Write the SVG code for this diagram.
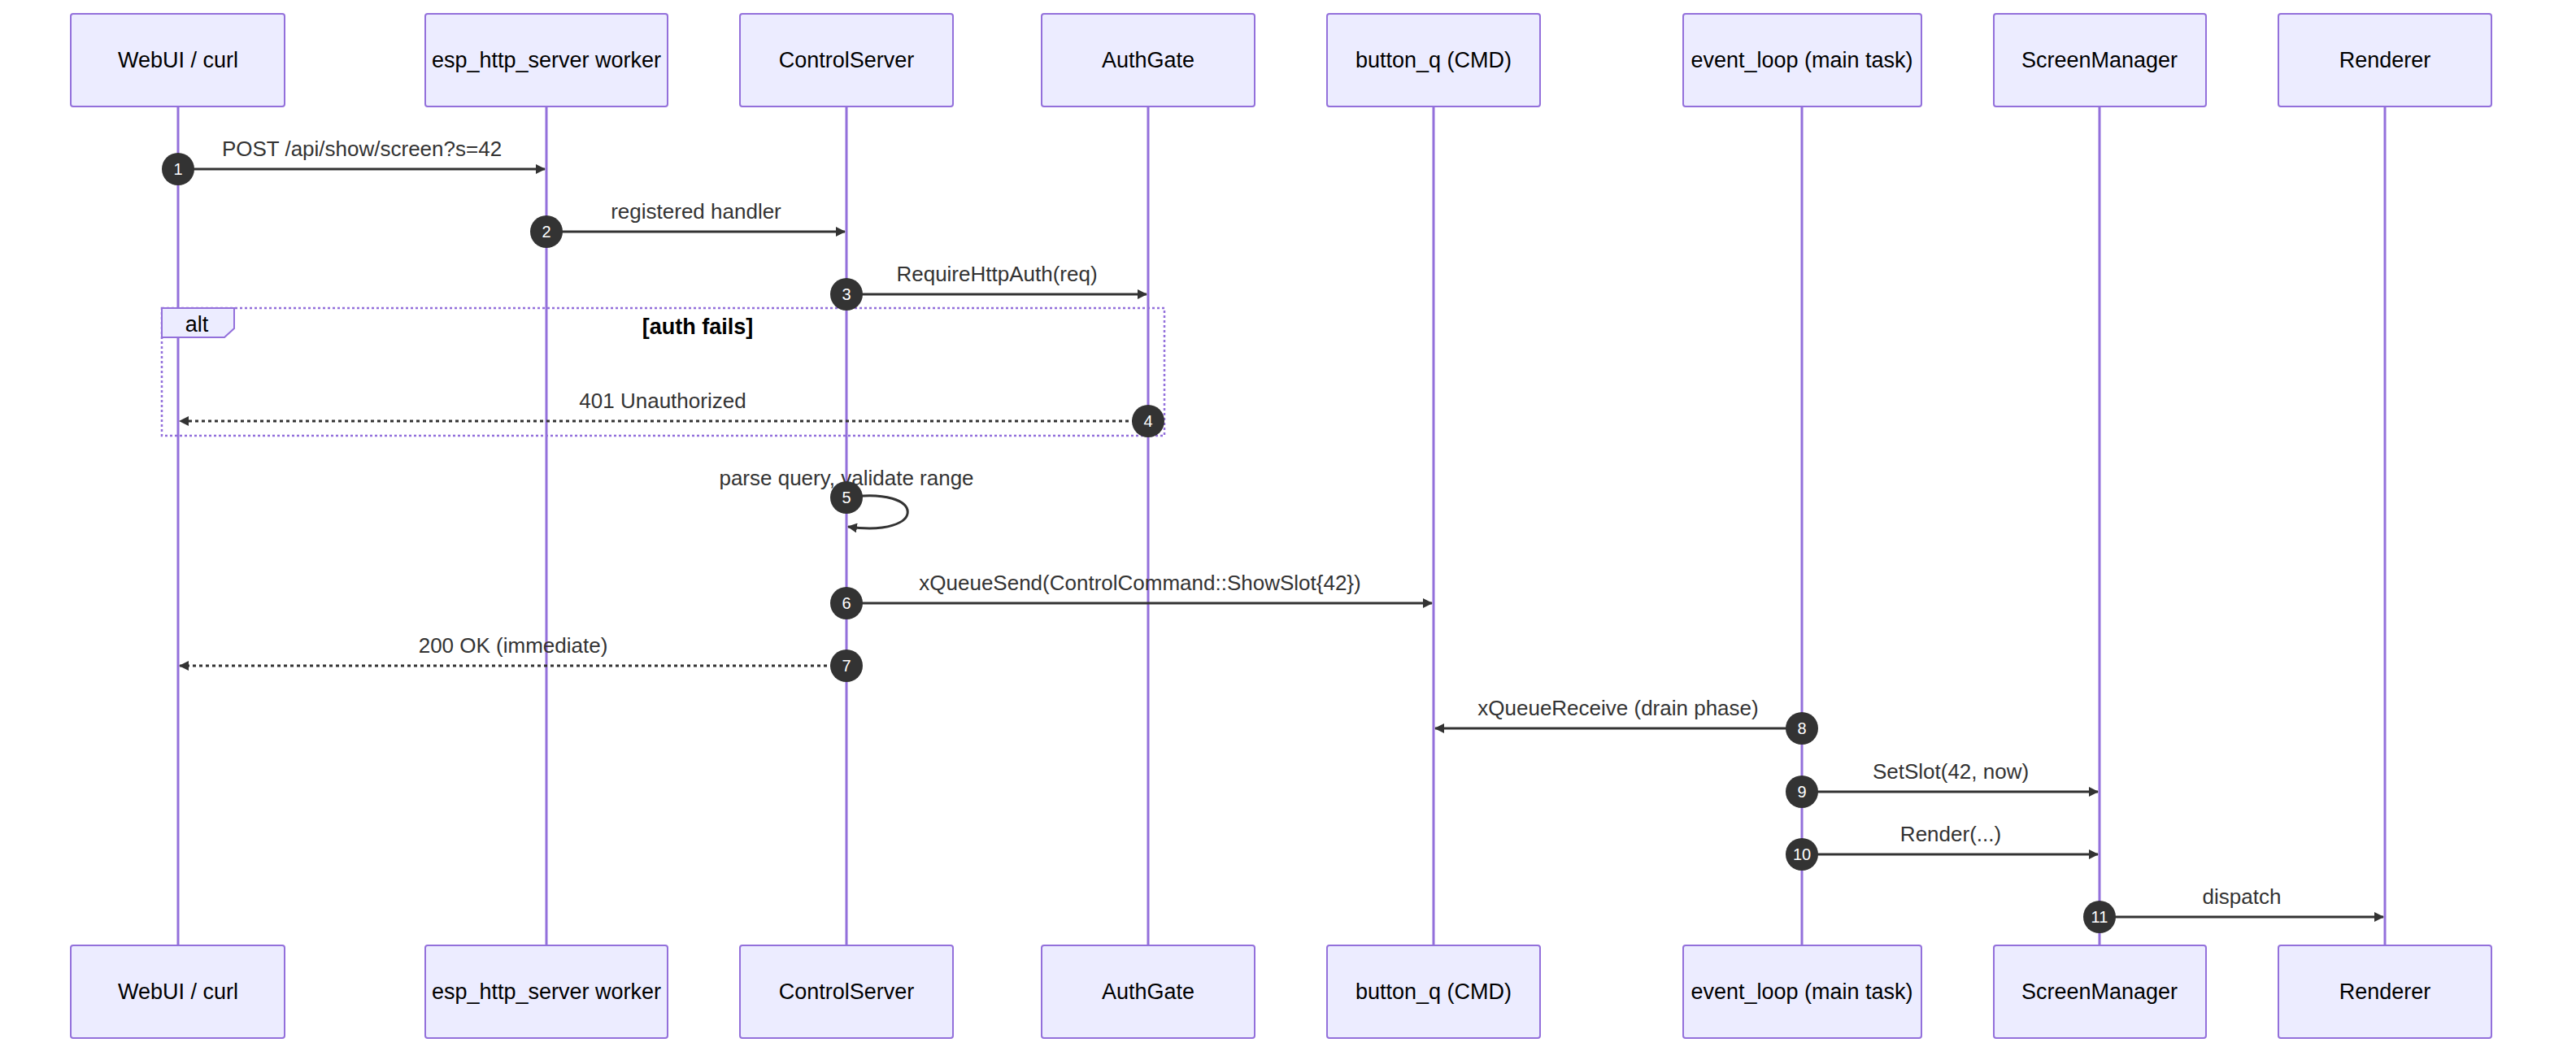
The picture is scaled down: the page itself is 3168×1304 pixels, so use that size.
<svg xmlns="http://www.w3.org/2000/svg" width="3168" height="1304" viewBox="0 0 3168 1304">
<style>
.box{fill:#ECECFF;stroke:#9370DB;stroke-width:2}
.life{stroke:#9370DB;stroke-width:3}
.t{font-family:"Liberation Sans",Arial,sans-serif;font-size:27px;fill:#000;text-anchor:middle;dominant-baseline:central}
.m{font-family:"Liberation Sans",Arial,sans-serif;font-size:26px;fill:#333;text-anchor:middle}
.msg{stroke:#333;stroke-width:3;fill:none}
.dot{stroke-dasharray:4,4}
.num{fill:#333}
.nt{font-family:"Liberation Sans",Arial,sans-serif;font-size:20px;fill:#fff;text-anchor:middle;dominant-baseline:central}
</style>
<defs>
<marker id="ah" markerWidth="12" markerHeight="12" refX="11" refY="6" orient="auto" markerUnits="userSpaceOnUse" viewBox="0 0 12 12"><path d="M0,0 L12,6 L0,12 z" fill="#333"/></marker>
</defs>
<rect width="3168" height="1304" fill="#fff"/>
<g id="lifelines">
<line class="life" x1="219" y1="131" x2="219" y2="1163"/>
<line class="life" x1="672" y1="131" x2="672" y2="1163"/>
<line class="life" x1="1041" y1="131" x2="1041" y2="1163"/>
<line class="life" x1="1412" y1="131" x2="1412" y2="1163"/>
<line class="life" x1="1763" y1="131" x2="1763" y2="1163"/>
<line class="life" x1="2216" y1="131" x2="2216" y2="1163"/>
<line class="life" x1="2582" y1="131" x2="2582" y2="1163"/>
<line class="life" x1="2933" y1="131" x2="2933" y2="1163"/>
</g>
<g id="alt">
<rect x="199" y="379" width="1233" height="157" fill="none" stroke="#9370DB" stroke-width="2.5" stroke-dasharray="3,3"/>
<path d="M199,379 H288 V404 L276,415 H199 z" fill="#ECECFF" stroke="#9370DB" stroke-width="2"/>
<text class="t" x="242" y="399">alt</text>
<text class="t" x="858" y="402" font-weight="bold" fill="#000">[auth fails]</text>
</g>
<g id="node-webui"><rect class="box" x="87" y="17" width="263" height="114" rx="3"/><text class="t" x="219" y="74">WebUI / curl</text></g>
<g id="node-esp"><rect class="box" x="523" y="17" width="298" height="114" rx="3"/><text class="t" x="672" y="74">esp_http_server worker</text></g>
<g id="node-cs"><rect class="box" x="910" y="17" width="262" height="114" rx="3"/><text class="t" x="1041" y="74">ControlServer</text></g>
<g id="node-auth"><rect class="box" x="1281" y="17" width="262" height="114" rx="3"/><text class="t" x="1412" y="74">AuthGate</text></g>
<g id="node-bq"><rect class="box" x="1632" y="17" width="262" height="114" rx="3"/><text class="t" x="1763" y="74">button_q (CMD)</text></g>
<g id="node-el"><rect class="box" x="2070" y="17" width="293" height="114" rx="3"/><text class="t" x="2216" y="74">event_loop (main task)</text></g>
<g id="node-sm"><rect class="box" x="2452" y="17" width="261" height="114" rx="3"/><text class="t" x="2582" y="74">ScreenManager</text></g>
<g id="node-r"><rect class="box" x="2802" y="17" width="262" height="114" rx="3"/><text class="t" x="2933" y="74">Renderer</text></g>
<g id="node-webui-b"><rect class="box" x="87" y="1163" width="263" height="114" rx="3"/><text class="t" x="219" y="1220">WebUI / curl</text></g>
<g id="node-esp-b"><rect class="box" x="523" y="1163" width="298" height="114" rx="3"/><text class="t" x="672" y="1220">esp_http_server worker</text></g>
<g id="node-cs-b"><rect class="box" x="910" y="1163" width="262" height="114" rx="3"/><text class="t" x="1041" y="1220">ControlServer</text></g>
<g id="node-auth-b"><rect class="box" x="1281" y="1163" width="262" height="114" rx="3"/><text class="t" x="1412" y="1220">AuthGate</text></g>
<g id="node-bq-b"><rect class="box" x="1632" y="1163" width="262" height="114" rx="3"/><text class="t" x="1763" y="1220">button_q (CMD)</text></g>
<g id="node-el-b"><rect class="box" x="2070" y="1163" width="293" height="114" rx="3"/><text class="t" x="2216" y="1220">event_loop (main task)</text></g>
<g id="node-sm-b"><rect class="box" x="2452" y="1163" width="261" height="114" rx="3"/><text class="t" x="2582" y="1220">ScreenManager</text></g>
<g id="node-r-b"><rect class="box" x="2802" y="1163" width="262" height="114" rx="3"/><text class="t" x="2933" y="1220">Renderer</text></g>
<g id="connectors">
<line class="msg" x1="219" y1="208" x2="670" y2="208" marker-end="url(#ah)"/>
<text class="m" x="445" y="192">POST /api/show/screen?s=42</text>
<line class="msg" x1="672" y1="285" x2="1039" y2="285" marker-end="url(#ah)"/>
<text class="m" x="856" y="269">registered handler</text>
<line class="msg" x1="1041" y1="362" x2="1410" y2="362" marker-end="url(#ah)"/>
<text class="m" x="1226" y="346">RequireHttpAuth(req)</text>
<line class="msg dot" x1="1412" y1="518" x2="221" y2="518" marker-end="url(#ah)"/>
<text class="m" x="815" y="502">401 Unauthorized</text>
<path class="msg" d="M1041,612 C1141,597 1141,662 1043,648" marker-end="url(#ah)"/>
<text class="m" x="1041" y="597">parse query, validate range</text>
<line class="msg" x1="1041" y1="742" x2="1761" y2="742" marker-end="url(#ah)"/>
<text class="m" x="1402" y="726">xQueueSend(ControlCommand::ShowSlot{42})</text>
<line class="msg dot" x1="1041" y1="819" x2="221" y2="819" marker-end="url(#ah)"/>
<text class="m" x="631" y="803">200 OK (immediate)</text>
<line class="msg" x1="2216" y1="896" x2="1765" y2="896" marker-end="url(#ah)"/>
<text class="m" x="1990" y="880">xQueueReceive (drain phase)</text>
<line class="msg" x1="2216" y1="974" x2="2580" y2="974" marker-end="url(#ah)"/>
<text class="m" x="2399" y="958">SetSlot(42, now)</text>
<line class="msg" x1="2216" y1="1051" x2="2580" y2="1051" marker-end="url(#ah)"/>
<text class="m" x="2399" y="1035">Render(...)</text>
<line class="msg" x1="2582" y1="1128" x2="2931" y2="1128" marker-end="url(#ah)"/>
<text class="m" x="2757" y="1112">dispatch</text>
</g>
<g id="numbers">
<circle class="num" cx="219" cy="208" r="20"/><text class="nt" x="219" y="208">1</text>
<circle class="num" cx="672" cy="285" r="20"/><text class="nt" x="672" y="285">2</text>
<circle class="num" cx="1041" cy="362" r="20"/><text class="nt" x="1041" y="362">3</text>
<circle class="num" cx="1412" cy="518" r="20"/><text class="nt" x="1412" y="518">4</text>
<circle class="num" cx="1041" cy="612" r="20"/><text class="nt" x="1041" y="612">5</text>
<circle class="num" cx="1041" cy="742" r="20"/><text class="nt" x="1041" y="742">6</text>
<circle class="num" cx="1041" cy="819" r="20"/><text class="nt" x="1041" y="819">7</text>
<circle class="num" cx="2216" cy="896" r="20"/><text class="nt" x="2216" y="896">8</text>
<circle class="num" cx="2216" cy="974" r="20"/><text class="nt" x="2216" y="974">9</text>
<circle class="num" cx="2216" cy="1051" r="20"/><text class="nt" x="2216" y="1051">10</text>
<circle class="num" cx="2582" cy="1128" r="20"/><text class="nt" x="2582" y="1128">11</text>
</g>
</svg>
